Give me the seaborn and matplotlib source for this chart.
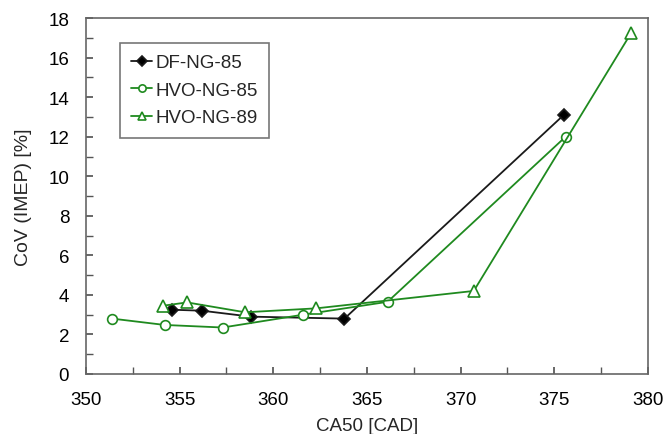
import matplotlib
matplotlib.use("Agg")
import matplotlib.pyplot as plt
import seaborn as sns
import pandas as pd
from matplotlib.ticker import MultipleLocator

df_x = [354.6, 356.2, 358.8, 363.8, 375.5]
df_y = [3.25, 3.2, 2.9, 2.8, 13.1]
hvo85_x = [351.4, 354.2, 357.3, 361.6, 366.1, 375.6]
hvo85_y = [2.8, 2.48, 2.35, 3.0, 3.65, 12.0]
hvo89_x = [354.1, 355.4, 358.5, 362.3, 370.7, 379.1]
hvo89_y = [3.45, 3.62, 3.12, 3.32, 4.2, 17.25]

sns.set_theme(style="ticks")
plt.rcParams['font.family'] = ['Liberation Sans', 'DejaVu Sans']

fig = plt.figure(figsize=(6.66, 4.35), dpi=100)
ax = fig.add_axes([0.129, 0.138, 0.844, 0.818])

green = '#1f8a1f'
series = [
    ("DF-NG-85", df_x, df_y, 'D', '#1a1a1a', '#000000', 6.5),
    ("HVO-NG-85", hvo85_x, hvo85_y, 'o', green, 'white', 7),
    ("HVO-NG-89", hvo89_x, hvo89_y, '^', green, 'white', 8),
]
for name, xs, ys, mk, col, fc, ms in series:
    d = pd.DataFrame({"x": xs, "y": ys})
    sns.lineplot(data=d, x="x", y="y", sort=False, ax=ax, color=col, lw=1.3,
                 marker=mk, markersize=ms, markerfacecolor=fc,
                 markeredgecolor=col, markeredgewidth=1.2, label=name)

ax.set_xlim(350, 380)
ax.set_ylim(0, 18)
ax.xaxis.set_major_locator(MultipleLocator(5))
ax.xaxis.set_minor_locator(MultipleLocator(2.5))
ax.yaxis.set_major_locator(MultipleLocator(2))
ax.yaxis.set_minor_locator(MultipleLocator(1))
ax.tick_params(which='both', direction='in', labelsize=13.5, colors='#555555',
               labelcolor='black', top=False, right=False)
ax.tick_params(which='major', length=5, pad=12)
ax.tick_params(which='minor', length=5)
for s in ax.spines.values():
    s.set_color('#666666')
    s.set_linewidth(1.2)
ax.set_xlabel("CA50 [CAD]", fontsize=13.5, labelpad=7)
ax.set_ylabel("CoV (IMEP) [%]", fontsize=14, labelpad=12)

leg = ax.legend(loc='upper left', bbox_to_anchor=(0.06, 0.93), borderaxespad=0,
                fontsize=13.5, handlelength=1.15, handletextpad=0.15, borderpad=0.6,
                labelspacing=0.55, fancybox=False, frameon=True, markerscale=0.75)
leg.get_frame().set_edgecolor('#555555')
leg.get_frame().set_linewidth(1.2)

fig.savefig("out.png", dpi=100)
